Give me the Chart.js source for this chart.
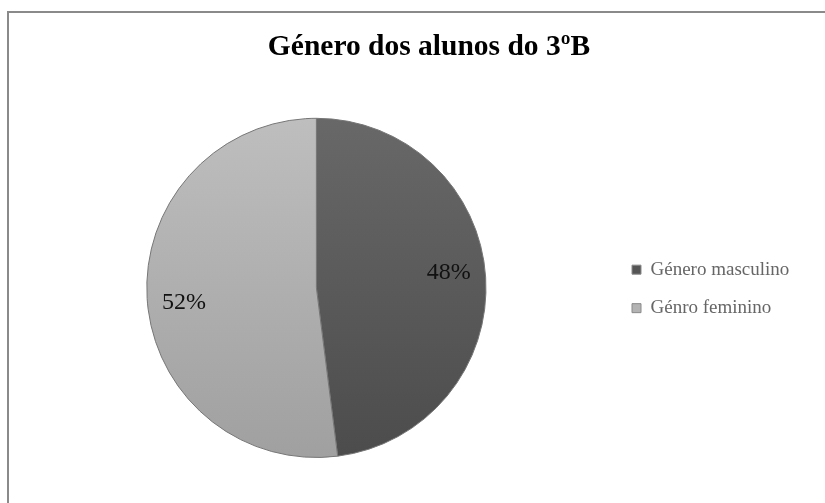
<!DOCTYPE html>
<html>
<head>
<meta charset="utf-8">
<script src="https://cdn.jsdelivr.net/npm/chart.js@4"></script>
<style>
  html, body { margin: 0; padding: 0; background: #fff; overflow: hidden; width: 825px; height: 503px; }
  #frame { position: absolute; left: 7px; top: 11px; width: 900px; height: 600px; border: 2px solid #8a8a8a; box-sizing: border-box; }
  #c { position: absolute; left: 9px; top: 13px; }
</style>
</head>
<body>
<div id="frame"></div>
<canvas id="c" width="840" height="490"></canvas>
<script>
const title = 'Género dos alunos do 3ºB';
const categories = ['Género masculino', 'Génro feminino'];
const values = [48, 52];
const percentLabels = ['48%', '52%'];

const topColors = ['#686868', '#bebebe'];
const bottomColors = ['#4c4c4c', '#a0a0a0'];
const legendColors = ['#555555', '#b3b3b3'];

function sliceFill(ctx) {
  const chart = ctx.chart;
  const area = chart.chartArea;
  if (!area) return topColors[ctx.dataIndex];
  const g = chart.ctx.createLinearGradient(0, area.top, 0, area.bottom);
  g.addColorStop(0, topColors[ctx.dataIndex]);
  g.addColorStop(1, bottomColors[ctx.dataIndex]);
  return g;
}

const pctLabelPlugin = {
  id: 'pctLabels',
  afterDatasetsDraw(chart) {
    const meta = chart.getDatasetMeta(0);
    const c = chart.ctx;
    c.save();
    c.font = '24px "Liberation Serif"';
    c.fillStyle = '#111';
    c.textAlign = 'center';
    c.textBaseline = 'middle';
    meta.data.forEach((arc, i) => {
      const p = arc.getProps(['x', 'y', 'startAngle', 'endAngle', 'outerRadius'], true);
      const mid = (p.startAngle + p.endAngle) / 2 - 0.05;
      const r = p.outerRadius * 0.785;
      c.fillText(percentLabels[i], p.x + Math.cos(mid) * r, p.y + Math.sin(mid) * r);
    });
    c.restore();
  }
};

new Chart(document.getElementById('c'), {
  type: 'pie',
  data: {
    labels: categories,
    datasets: [{
      data: values,
      backgroundColor: sliceFill,
      borderColor: '#767676',
      borderWidth: 1
    }]
  },
  options: {
    responsive: false,
    animation: false,
    devicePixelRatio: 1,
    layout: { padding: { left: 53, right: 53, top: 0, bottom: 45 } },
    plugins: {
      title: {
        display: true,
        text: title,
        color: '#000',
        font: { family: '"Liberation Serif"', size: 29.5, weight: 'bold', lineHeight: 1.2 },
        padding: { top: 16.3, bottom: 53.1 }
      },
      subtitle: {
        display: true,
        text: '',
        position: 'right',
        fullSize: false,
        weight: 500,
        font: { size: 10, lineHeight: 1.2 },
        padding: { top: 14.85, bottom: 14.85 }
      },
      legend: {
        position: 'right',
        align: 'center',
        title: {
          display: true,
          text: '',
          font: { size: 10, lineHeight: 1.2 },
          padding: { top: 94.8, bottom: 0 }
        },
        labels: {
          color: '#000',
          font: { family: '"Liberation Serif"', size: 19, lineHeight: 1.2 },
          boxWidth: 9,
          boxHeight: 9,
          padding: 19.5,
          generateLabels(chart) {
            return categories.map((name, i) => ({
              text: name,
              fillStyle: legendColors[i],
              strokeStyle: '#8a8a8a',
              lineWidth: 1,
              index: i
            }));
          }
        }
      },
      tooltip: { enabled: false }
    }
  },
  plugins: [pctLabelPlugin]
});
</script>
</body>
</html>
